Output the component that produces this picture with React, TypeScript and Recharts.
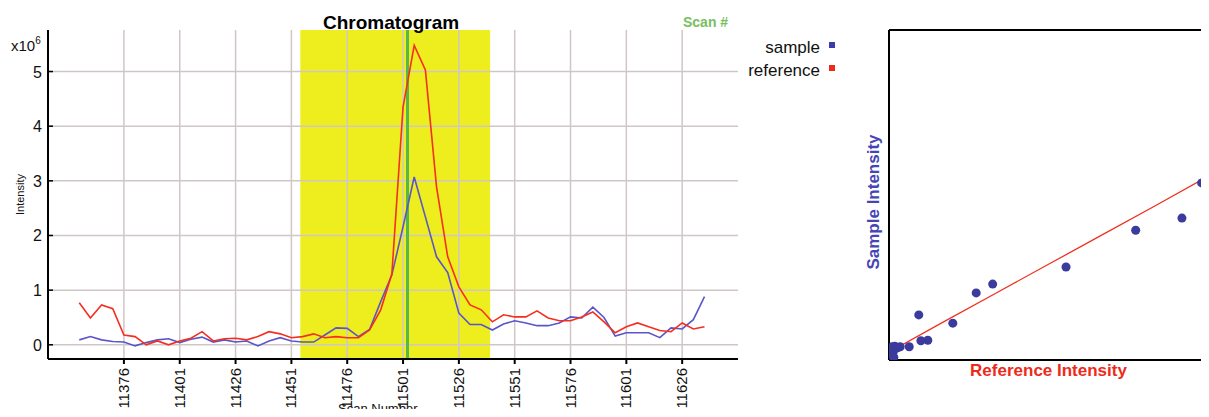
import React from "react"
import {
  Label,
  Line,
  LineChart,
  ReferenceArea,
  ReferenceLine,
  Scatter,
  ScatterChart,
  XAxis,
  YAxis,
  ZAxis,
} from "recharts"

// chromatogram, intensity in units of 10^6
const scans = [
  11356, 11361, 11366, 11371, 11376, 11381, 11386, 11391, 11396, 11401,
  11406, 11411, 11416, 11421, 11426, 11431, 11436, 11441, 11446, 11451,
  11456, 11461, 11466, 11471, 11476, 11481, 11486, 11491, 11496, 11501,
  11506, 11511, 11516, 11521, 11526, 11531, 11536, 11541, 11546, 11551,
  11556, 11561, 11566, 11571, 11576, 11581, 11586, 11591, 11596, 11601,
  11606, 11611, 11616, 11621, 11626, 11631, 11636,
]
const sample = [
  0.09, 0.15, 0.09, 0.06, 0.05, -0.02, 0.04, 0.09, 0.11, 0.04,
  0.1, 0.14, 0.05, 0.09, 0.05, 0.07, -0.02, 0.07, 0.13, 0.07,
  0.05, 0.05, 0.18, 0.31, 0.3, 0.15, 0.28, 0.79, 1.28, 2.16,
  3.07, 2.34, 1.61, 1.32, 0.58, 0.37, 0.37, 0.27, 0.38, 0.44,
  0.4, 0.35, 0.35, 0.4, 0.51, 0.49, 0.69, 0.5, 0.16, 0.22,
  0.22, 0.22, 0.13, 0.31, 0.29, 0.46, 0.88,
]
const reference = [
  0.77, 0.49, 0.73, 0.66, 0.18, 0.15, 0.0, 0.07, 0.0, 0.07,
  0.12, 0.24, 0.07, 0.11, 0.12, 0.09, 0.15, 0.24, 0.2, 0.13,
  0.15, 0.2, 0.13, 0.15, 0.13, 0.13, 0.27, 0.64, 1.3, 4.35,
  5.48, 5.03, 2.89, 1.61, 1.06, 0.73, 0.64, 0.42, 0.55, 0.51,
  0.51, 0.62, 0.49, 0.44, 0.44, 0.51, 0.6, 0.42, 0.22, 0.33,
  0.4, 0.33, 0.26, 0.24, 0.4, 0.29, 0.33,
]
const scanTicks = [11376, 11401, 11426, 11451, 11476, 11501, 11526, 11551, 11576, 11601, 11626]
const intensityTicks = [0, 1, 2, 3, 4, 5]
const windowStart = 11455
const windowEnd = 11540
const selectedScan = 11503

// scatter: reference vs sample intensity
const scatterRef = [5.88, 5.51, 4.64, 3.33, 1.95, 1.64, 1.2, 0.56, 0.73, 0.6, 0.38, 0.21, 0.11, 0.06, 0.08, 0.09, 0.04, 0.16]
const scatterSample = [3.22, 2.58, 2.36, 1.69, 1.38, 1.22, 0.67, 0.82, 0.36, 0.35, 0.24, 0.24, 0.25, 0.24, 0.15, 0.05, 0.09, 0.22]
const fitRef = [0, 1, 2, 3, 4, 5, 6]
const fitSample = [0.14, 0.68, 1.21, 1.74, 2.27, 2.8, 3.34]

const chromData = scans.map((s, i) => ({ scan: s, sample: sample[i], reference: reference[i] }))
const scatterData = scatterRef.map((r, i) => ({ refInt: r, sampleInt: scatterSample[i] }))
const fitData = fitRef.map((r, i) => ({ refInt: r, sampleInt: fitSample[i] }))

const FONT = "'Liberation Sans', Arial, sans-serif"
const RED = "#f52e1f"
const BLUE = "#5a55c8"
const GRID = "#cfc7c7"

const ScanTick = ({ x, y, payload }: any) => (
  <g transform={`translate(${x},${y})`}>
    <text transform="rotate(-90)" x={-2} dy={5} textAnchor="end" fontSize={15} fill="#111" fontFamily={FONT}>
      {payload.value}
    </text>
  </g>
)

const IntensityTick = ({ x, y, payload }: any) => (
  <g>
    <line x1={x + 6} x2={x + 11} y1={y} y2={y} stroke="#000" strokeWidth={1.5} />
    <text x={x} y={y} dy={6} textAnchor="end" fontSize={16} fill="#111" fontFamily={FONT}>
      {payload.value}
    </text>
  </g>
)

const NoTick = () => <g />
const NoDot = () => <g />

export default function App() {
  return (
    <div style={{ position: "relative", width: 1209, height: 417, margin: -8, background: "#fff", fontFamily: FONT }}>
      <div style={{ position: "absolute", left: 0, top: 0 }}>
        <LineChart width={760} height={417} data={chromData} margin={{ top: 30, right: 22, bottom: 0, left: 0 }}>
          <ReferenceArea x1={windowStart} x2={windowEnd} fill="#eeee1e" fillOpacity={1} stroke="none" ifOverflow="hidden" />
          {scanTicks.map((t) => (
            <ReferenceLine key={`gx${t}`} x={t} stroke={GRID} strokeWidth={1.5} />
          ))}
          {intensityTicks.map((t) => (
            <ReferenceLine key={`gy${t}`} y={t} stroke={GRID} strokeWidth={1.5} />
          ))}
          <XAxis
            dataKey="scan"
            type="number"
            domain={[11342, 11651]}
            ticks={scanTicks}
            allowDataOverflow
            height={58}
            stroke="#000"
            strokeWidth={2}
            tickSize={5}
            tick={<ScanTick />}
          />
          <XAxis
            xAxisId="top"
            orientation="top"
            type="number"
            domain={[11342, 11651]}
            ticks={scanTicks}
            allowDataOverflow
            height={0}
            mirror
            stroke="#000"
            strokeWidth={2}
            tickSize={5}
            tick={<NoTick />}
          />
          <YAxis
            type="number"
            domain={[-0.26, 5.76]}
            ticks={intensityTicks}
            allowDataOverflow
            width={48}
            stroke="#000"
            strokeWidth={2}
            tickLine={false}
            tickSize={0}
            tickMargin={6}
            tick={<IntensityTick />}
          >
            <Label value="Intensity" angle={-90} position="center" dx={-4} fontSize={11} fill="#111" />
          </YAxis>
          <YAxis
            yAxisId="right"
            orientation="right"
            type="number"
            domain={[-0.26, 5.76]}
            ticks={intensityTicks}
            allowDataOverflow
            width={0}
            mirror
            stroke="#000"
            strokeWidth={2}
            tickSize={5}
            tick={<NoTick />}
          />
          <ReferenceLine x={selectedScan} stroke="#55b84a" strokeWidth={3} />
          <Line type="linear" dataKey="sample" stroke={BLUE} strokeWidth={1.6} dot={false} isAnimationActive={false} />
          <Line type="linear" dataKey="reference" stroke={RED} strokeWidth={1.6} dot={false} isAnimationActive={false} />
        </LineChart>
      </div>

      <div style={{ position: "absolute", left: 0, width: 782, top: 12, textAlign: "center", fontWeight: "bold", fontSize: 19, color: "#000" }}>
        Chromatogram
      </div>
      <div style={{ position: "absolute", left: 683, top: 14, fontWeight: "bold", fontSize: 14, color: "#77c060" }}>Scan #</div>
      <div style={{ position: "absolute", left: 11, top: 36, fontSize: 15, color: "#111" }}>
        x10<sup style={{ fontSize: 10, position: "relative", top: -1 }}>6</sup>
      </div>
      <div style={{ position: "absolute", left: 338, top: 402, fontSize: 13, lineHeight: "14px", color: "#111" }}>Scan Number</div>

      <div style={{ position: "absolute", left: 720, top: 36, width: 100, textAlign: "right", fontSize: 17, lineHeight: "23px", color: "#111" }}>
        <div>sample</div>
        <div>reference</div>
      </div>
      <div style={{ position: "absolute", left: 829, top: 42, width: 6, height: 6, background: "#3b3bb0" }} />
      <div style={{ position: "absolute", left: 829, top: 65, width: 6, height: 6, background: "#ee2a1a" }} />

      <div style={{ position: "absolute", left: 840, top: 0 }}>
        <ScatterChart width={369} height={417} margin={{ top: 30, right: 1, bottom: 0, left: 0 }}>
          <XAxis
            dataKey="refInt"
            type="number"
            domain={[0, 6]}
            allowDataOverflow
            height={57}
            stroke="#000"
            strokeWidth={2}
            tick={false}
            tickLine={false}
          >
            <Label value="Reference Intensity" position="center" dy={-19} fontSize={17} fontWeight="bold" fill="#ee2a1a" />
          </XAxis>
          <YAxis
            dataKey="sampleInt"
            type="number"
            domain={[0, 6]}
            allowDataOverflow
            width={49}
            stroke="#000"
            strokeWidth={2}
            tick={false}
            tickLine={false}
          >
            <Label value="Sample Intensity" angle={-90} position="center" dx={8} dy={7} fontSize={17} fontWeight="bold" fill="#4545b5" />
          </YAxis>
          <ZAxis range={[40, 40]} />
          <ReferenceLine y={6} stroke="#000" strokeWidth={2} />
          <Scatter data={fitData} line={{ stroke: "#f03020", strokeWidth: 1.3 }} shape={<NoDot />} isAnimationActive={false} />
          <Scatter data={scatterData} fill="#3b3b9e" shape="circle" isAnimationActive={false} />
        </ScatterChart>
      </div>
    </div>
  )
}
